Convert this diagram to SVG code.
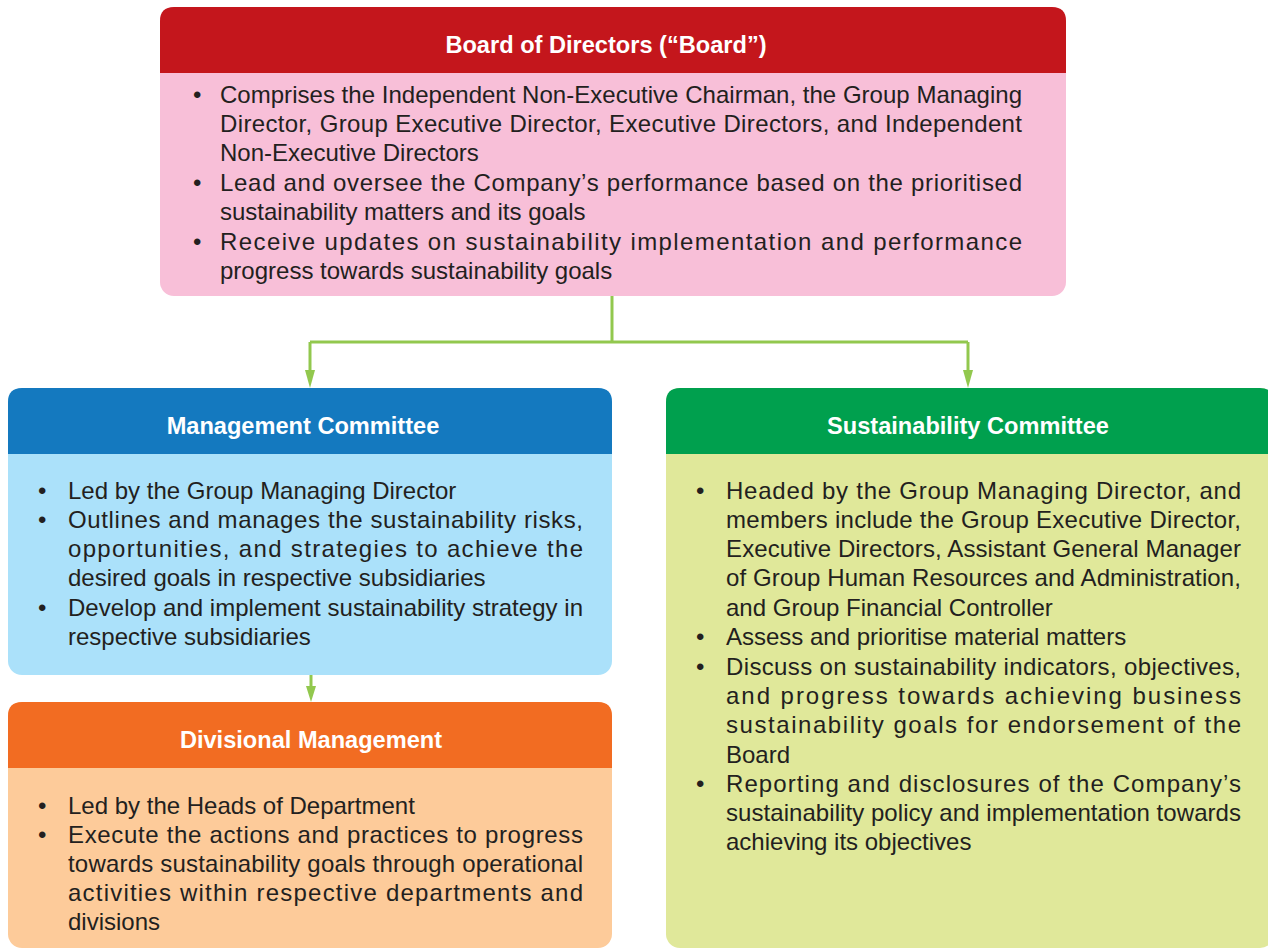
<svg xmlns="http://www.w3.org/2000/svg" width="1268" height="951" viewBox="0 0 1268 951">
<defs>
<style>
.t{font-family:"Liberation Sans",Arial,sans-serif;font-size:24px;fill:#231F20}
.h{font-family:"Liberation Sans",Arial,sans-serif;font-size:23.6px;font-weight:bold;fill:#FFFFFF;text-anchor:middle}
.c{fill:none;stroke:#92C84E;stroke-width:3}
.a{fill:#92C84E}
</style>
</defs>
<rect width="1268" height="951" fill="#FFFFFF"/>
<g id="connectors">
<path class="c" d="M612,296 V342"/>
<path class="c" d="M310,342 H968"/>
<path d="M310,342 V372" class="c"/>
<path d="M305,370 L315,370 L310,388 Z" class="a"/>
<path d="M968,342 V372" class="c"/>
<path d="M963,370 L973,370 L968,388 Z" class="a"/>
<path d="M311,675 V688" class="c"/>
<path d="M306,686 L316,686 L311,702 Z" class="a"/>
</g>
<g id="board">
<rect x="160" y="7" width="906" height="289" rx="14" fill="#F8BFD8"/>
<path d="M160,73 V21 Q160,7 174,7 H1052 Q1066,7 1066,21 V73 Z" fill="#C4161C"/>
<text class="h" x="606" y="53">Board of Directors (“Board”)</text>
<text class="t" x="193" y="103">•</text>
<text class="t" x="220" y="103" textLength="802" lengthAdjust="spacing">Comprises the Independent Non-Executive Chairman, the Group Managing</text>
<text class="t" x="220" y="132" textLength="802" lengthAdjust="spacing">Director, Group Executive Director, Executive Directors, and Independent</text>
<text class="t" x="220" y="161">Non-Executive Directors</text>
<text class="t" x="193" y="191">•</text>
<text class="t" x="220" y="191" textLength="802" lengthAdjust="spacing">Lead and oversee the Company’s performance based on the prioritised</text>
<text class="t" x="220" y="220">sustainability matters and its goals</text>
<text class="t" x="193" y="250">•</text>
<text class="t" x="220" y="250" textLength="802" lengthAdjust="spacing">Receive updates on sustainability implementation and performance</text>
<text class="t" x="220" y="279">progress towards sustainability goals</text>
</g>
<g id="management">
<rect x="8" y="388" width="604" height="287" rx="14" fill="#ABE1FA"/>
<path d="M8,454 V402 Q8,388 22,388 H598 Q612,388 612,402 V454 Z" fill="#1479BF"/>
<text class="h" x="303" y="434">Management Committee</text>
<text class="t" x="38" y="499">•</text>
<text class="t" x="68" y="499">Led by the Group Managing Director</text>
<text class="t" x="38" y="528">•</text>
<text class="t" x="68" y="528" textLength="515" lengthAdjust="spacing">Outlines and manages the sustainability risks,</text>
<text class="t" x="68" y="557" textLength="515" lengthAdjust="spacing">opportunities, and strategies to achieve the</text>
<text class="t" x="68" y="586">desired goals in respective subsidiaries</text>
<text class="t" x="38" y="616">•</text>
<text class="t" x="68" y="616" textLength="515" lengthAdjust="spacing">Develop and implement sustainability strategy in</text>
<text class="t" x="68" y="645">respective subsidiaries</text>
</g>
<g id="divisional">
<rect x="8" y="702" width="604" height="246" rx="14" fill="#FDCB9A"/>
<path d="M8,768 V716 Q8,702 22,702 H598 Q612,702 612,716 V768 Z" fill="#F26C22"/>
<text class="h" x="311" y="748">Divisional Management</text>
<text class="t" x="38" y="814">•</text>
<text class="t" x="68" y="814">Led by the Heads of Department</text>
<text class="t" x="38" y="843">•</text>
<text class="t" x="68" y="843" textLength="515" lengthAdjust="spacing">Execute the actions and practices to progress</text>
<text class="t" x="68" y="872" textLength="515" lengthAdjust="spacing">towards sustainability goals through operational</text>
<text class="t" x="68" y="901" textLength="515" lengthAdjust="spacing">activities within respective departments and</text>
<text class="t" x="68" y="930">divisions</text>
</g>
<g id="sustainability">
<rect x="666" y="388" width="608" height="560" rx="14" fill="#E0E89A"/>
<path d="M666,454 V402 Q666,388 680,388 H1260 Q1274,388 1274,402 V454 Z" fill="#00A04E"/>
<text class="h" x="968" y="434">Sustainability Committee</text>
<text class="t" x="696" y="499">•</text>
<text class="t" x="726" y="499" textLength="515" lengthAdjust="spacing">Headed by the Group Managing Director, and</text>
<text class="t" x="726" y="528" textLength="515" lengthAdjust="spacing">members include the Group Executive Director,</text>
<text class="t" x="726" y="557" textLength="515" lengthAdjust="spacing">Executive Directors, Assistant General Manager</text>
<text class="t" x="726" y="586" textLength="515" lengthAdjust="spacing">of Group Human Resources and Administration,</text>
<text class="t" x="726" y="616">and Group Financial Controller</text>
<text class="t" x="696" y="645">•</text>
<text class="t" x="726" y="645">Assess and prioritise material matters</text>
<text class="t" x="696" y="675">•</text>
<text class="t" x="726" y="675" textLength="515" lengthAdjust="spacing">Discuss on sustainability indicators, objectives,</text>
<text class="t" x="726" y="704" textLength="515" lengthAdjust="spacing">and progress towards achieving business</text>
<text class="t" x="726" y="733" textLength="515" lengthAdjust="spacing">sustainability goals for endorsement of the</text>
<text class="t" x="726" y="763">Board</text>
<text class="t" x="696" y="792">•</text>
<text class="t" x="726" y="792" textLength="515" lengthAdjust="spacing">Reporting and disclosures of the Company’s</text>
<text class="t" x="726" y="821" textLength="515" lengthAdjust="spacing">sustainability policy and implementation towards</text>
<text class="t" x="726" y="850">achieving its objectives</text>
</g>
</svg>
